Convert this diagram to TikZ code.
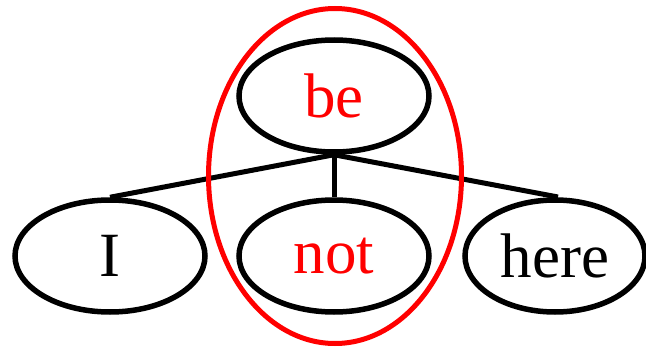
\documentclass[tikz,border=0pt]{standalone}
\usepackage{fontspec}
\setmainfont{Liberation Serif}
\usetikzlibrary{shapes.geometric}
\begin{document}
\begin{tikzpicture}[x=1pt,y=-1pt,
  word/.style={ellipse,draw=black,line width=5.5pt,minimum width=190pt,minimum height=112pt,inner sep=0pt,
    font=\fontsize{63}{70}\selectfont},
  edge/.style={draw=black,line width=5pt},
  redword/.style={text=red}]
\useasboundingbox (0,0) rectangle (646,348);
\node[word,redword] (be) at (334,96) {be};
\node[word] (I) at (110,256) {I};
\node[word,redword] (not) at (334,256) {not};
\node[word,minimum width=180pt] (here) at (555,256) {here};
\coordinate (hereTop) at (558,197);
\draw[edge] (be.south) -- (I.north);
\draw[edge] (be.south) -- (not.north);
\draw[edge] (be.south) -- (hereTop);
\node[ellipse,draw=red,line width=5pt,minimum width=253pt,minimum height=335pt,inner sep=0pt] (group) at (335,176) {};
\end{tikzpicture}
\end{document}
